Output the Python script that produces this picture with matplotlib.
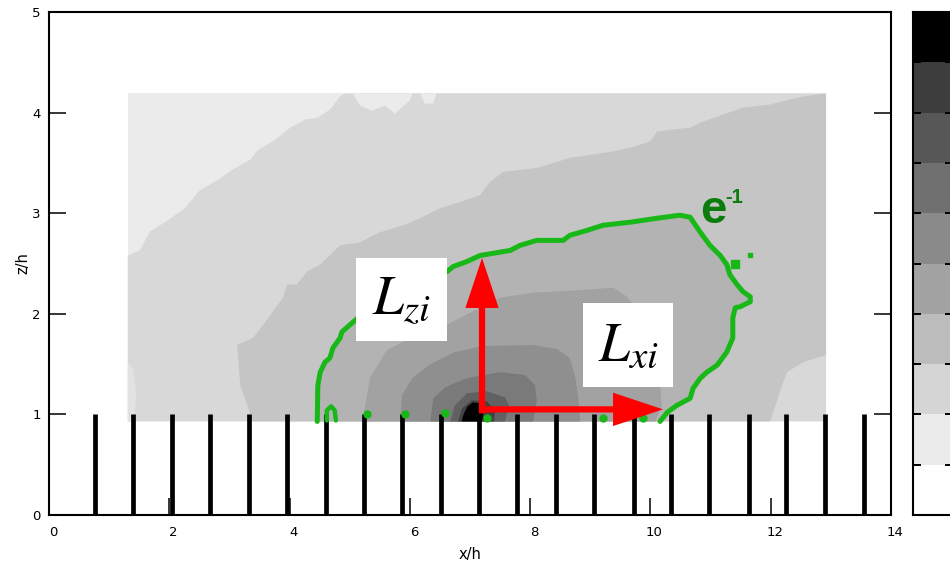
import matplotlib
matplotlib.use("Agg")
import matplotlib.pyplot as plt
from matplotlib.patches import FancyArrowPatch, Rectangle
from matplotlib.transforms import ScaledTranslation

plt.rcParams['font.family'] = ['DejaVu Sans']
plt.rcParams['mathtext.fontset'] = 'stix'

# ---------------- data (units: x/h, z/h) ----------------
x_ticks = [0, 2, 4, 6, 8, 10, 12, 14]
z_ticks = [0, 1, 2, 3, 4, 5]

field_x = [1.31, 12.92]
field_z = [0.93, 4.19]

# level boundaries (closed polygons)
lvl_B_x = [1.31, 1.51, 1.68, 1.93, 2.26, 2.51, 2.81, 3.04, 3.34, 3.48, 3.76, 4.01, 4.26, 4.47, 4.67, 4.84, 4.92, 12.92, 12.92, 1.31]
lvl_B_z = [2.58, 2.63, 2.82, 2.91, 3.05, 3.23, 3.33, 3.43, 3.53, 3.63, 3.73, 3.85, 3.93, 3.95, 4.03, 4.16, 4.19, 4.19, 0.93, 0.93]

patch_A1_x = [5.05, 5.17, 5.37, 5.59, 5.75, 6.00, 6.04]
patch_A1_z = [4.19, 4.07, 4.02, 4.07, 3.99, 4.12, 4.19]
patch_A2_x = [6.17, 6.25, 6.39, 6.44]
patch_A2_z = [4.19, 4.09, 4.09, 4.19]
patch_A3_x = [1.31, 1.31, 1.40, 1.45, 1.42]
patch_A3_z = [0.93, 1.52, 1.45, 1.20, 0.93]

lvl_C_x = [3.39, 3.18, 3.13, 3.39, 3.56, 3.89, 3.96, 4.12, 4.29, 4.51, 4.84, 5.17, 5.50, 5.89, 6.17,
           6.50, 6.83, 7.17, 7.33, 7.55, 8.11, 8.45, 8.66, 9.00, 9.33, 9.66, 9.99, 10.11, 10.33, 10.66,
           10.87, 11.21, 11.54, 11.99, 12.32, 12.54, 12.92, 12.92, 12.54, 12.27, 12.15, 11.99]
lvl_C_z = [0.93, 1.29, 1.69, 1.76, 1.89, 2.16, 2.29, 2.29, 2.42, 2.49, 2.68, 2.71, 2.81, 2.88, 2.95,
           3.05, 3.11, 3.18, 3.31, 3.41, 3.45, 3.51, 3.55, 3.58, 3.61, 3.65, 3.71, 3.81, 3.83, 3.85,
           3.91, 3.98, 4.05, 4.08, 4.13, 4.16, 4.19, 1.59, 1.52, 1.42, 1.22, 0.93]

# e^-1 contour
e1_x = [4.46, 4.47, 4.51, 4.59, 4.67, 4.72, 4.84, 4.87, 5.06, 5.50, 6.17, 6.62, 6.72, 6.95, 7.17,
        7.67, 7.83, 8.11, 8.55, 8.66, 8.95, 9.21, 9.66, 10.11, 10.49, 10.66, 10.83, 10.99, 11.16, 11.27,
        11.32, 11.44, 11.54, 11.66, 11.66, 11.49, 11.41, 11.37, 11.37, 11.27, 11.11, 10.94, 10.83, 10.71,
        10.66, 10.44, 10.28, 10.16]
e1_z = [0.93, 1.29, 1.42, 1.52, 1.56, 1.66, 1.76, 1.82, 1.92, 2.14, 2.34, 2.42, 2.47, 2.52, 2.58,
        2.63, 2.68, 2.73, 2.73, 2.78, 2.83, 2.88, 2.91, 2.95, 2.98, 2.96, 2.81, 2.68, 2.58, 2.49,
        2.39, 2.29, 2.22, 2.17, 2.12, 2.07, 2.06, 1.96, 1.76, 1.62, 1.49, 1.42, 1.36, 1.26,
        1.16, 1.09, 1.02, 0.93]

lvl_E_x = [5.21, 5.34, 5.62, 5.95, 6.39, 6.67, 7.00, 7.50, 8.05, 8.95, 9.38, 9.61, 9.91, 10.08, 10.16, 10.19, 10.08]
lvl_E_z = [0.93, 1.37, 1.64, 1.74, 1.82, 1.91, 2.01, 2.16, 2.21, 2.24, 2.26, 2.17, 1.94, 1.64, 1.29, 1.09, 0.93]
lvl_F_x = [5.84, 5.87, 6.04, 6.34, 6.75, 7.22, 8.05, 8.45, 8.66, 8.75, 8.80, 8.83]
lvl_F_z = [0.93, 1.19, 1.36, 1.50, 1.62, 1.68, 1.69, 1.65, 1.56, 1.37, 1.17, 0.93]
lvl_G_x = [6.34, 6.39, 6.59, 6.95, 7.50, 7.92, 8.08, 8.11, 8.05]
lvl_G_z = [0.93, 1.16, 1.27, 1.36, 1.42, 1.39, 1.29, 1.14, 0.93]
lvl_H_x = [6.67, 6.75, 6.95, 7.28, 7.58, 7.65, 7.58]
lvl_H_z = [0.93, 1.09, 1.21, 1.23, 1.17, 1.09, 0.93]
lvl_I_x = [6.80, 6.87, 7.03, 7.28, 7.42, 7.40]
lvl_I_z = [0.93, 1.06, 1.14, 1.13, 1.04, 0.93]
lvl_K_x = [6.86, 6.90, 6.96, 7.05, 7.15, 7.21, 7.22, 7.20]
lvl_K_z = [0.93, 1.01, 1.08, 1.12, 1.11, 1.06, 1.00, 0.93]

# small e^-1 fragments near the obstacle tops
hook_x = [4.62, 4.62, 4.69, 4.75, 4.77]
hook_z = [0.94, 1.04, 1.08, 1.04, 0.94]
frag_x = [5.29, 5.92, 6.58, 7.28, 9.21, 9.88]
frag_z = [1.00, 1.00, 1.01, 0.96, 0.96, 0.96]
blob_x = [11.41, 11.66]
blob_z = [2.50, 2.58]

# roughness elements (height 1)
bar_x = [0.765, 1.402, 2.040, 2.677, 3.321, 3.962, 4.601, 5.243, 5.875, 6.513, 7.155,
         7.782, 8.430, 9.062, 9.722, 10.342, 10.974, 11.634, 12.250, 12.903, 13.557]
bar_h = 1.0

# arrows
arrow_origin = [7.20, 1.05]
Lz_tip = 2.555
Lx_tip = 10.21

# label boxes: x0, x1, z0, z1
Lzi_box = [5.105, 6.618, 1.73, 2.555]
Lxi_box = [8.88, 10.375, 1.272, 2.107]

# colours
col_A, col_B, col_C = '#ebebeb', '#d8d8d8', '#c5c5c5'
col_D, col_E, col_F = '#b3b3b3', '#a2a2a2', '#8f8f8f'
col_G, col_H, col_I, col_K = '#7a7a7a', '#616161', '#434343', '#000000'
cbar_colors = ['#ffffff', '#ebebeb', '#d5d5d5', '#bcbcbc', '#a3a3a3',
               '#8a8a8a', '#707070', '#575757', '#3d3d3d', '#000000']
green = '#17b817'
dark_green = '#0b7d0b'

# ---------------- figure ----------------
fig = plt.figure(figsize=(9.5, 5.66), dpi=100)
ax = fig.add_axes([49 / 950, 51 / 566, 842 / 950, 503 / 566])
ax.set_xlim(0, 14)
ax.set_ylim(0, 5)

# field
ax.fill([field_x[0], field_x[1], field_x[1], field_x[0]],
        [field_z[0], field_z[0], field_z[1], field_z[1]], color=col_A, lw=0, zorder=1)
ax.fill(lvl_B_x, lvl_B_z, color=col_B, lw=0, zorder=1)
for px, pz in [(patch_A1_x, patch_A1_z), (patch_A2_x, patch_A2_z)]:
    ax.fill(px, pz, color=col_A, lw=0, zorder=1)
ax.fill(patch_A3_x, patch_A3_z, color='#e2e2e2', lw=0, zorder=1)
ax.fill(lvl_C_x, lvl_C_z, color=col_C, lw=0, zorder=1)
ax.fill(e1_x, e1_z, color=col_D, lw=0, zorder=1)
for px, pz, c in [(lvl_E_x, lvl_E_z, col_E), (lvl_F_x, lvl_F_z, col_F),
                  (lvl_G_x, lvl_G_z, col_G), (lvl_H_x, lvl_H_z, col_H),
                  (lvl_I_x, lvl_I_z, col_I), (lvl_K_x, lvl_K_z, col_K)]:
    ax.fill(px, pz, color=c, lw=0, zorder=1)

# e^-1 contour
ax.plot(e1_x, e1_z, color=green, lw=3.6, solid_joinstyle='round', solid_capstyle='round', zorder=4)
ax.plot(hook_x, hook_z, color=green, lw=3.2, solid_capstyle='round', zorder=4)
ax.plot(frag_x, frag_z, 'o', color=green, ms=5, zorder=4)
ax.plot(blob_x[:1], blob_z[:1], 's', color=green, ms=6, zorder=4)
ax.plot(blob_x[1:], blob_z[1:], 's', color=green, ms=3.5, zorder=4)

# roughness bars
ax.vlines(bar_x, 0, bar_h, colors='black', lw=3.4, zorder=3)

# label boxes
for b in (Lzi_box, Lxi_box):
    ax.add_patch(Rectangle((b[0], b[2]), b[1] - b[0], b[3] - b[2], fc='white', ec='none', zorder=5))
ax.text((Lzi_box[0] + Lzi_box[1]) / 2, (Lzi_box[2] + Lzi_box[3]) / 2, r'$L_{zi}$',
        fontsize=40, ha='center', va='center', zorder=6)
ax.text((Lxi_box[0] + Lxi_box[1]) / 2, (Lxi_box[2] + Lxi_box[3]) / 2, r'$L_{xi}$',
        fontsize=40, ha='center', va='center', zorder=6)

# e^-1 label
ax.text(10.825, 2.90, 'e', fontsize=34, fontweight='bold', color=dark_green,
        family=['Liberation Sans', 'DejaVu Sans'], ha='left', va='baseline', zorder=6)
ax.text(11.24, 3.10, '-1', fontsize=14.5, fontweight='bold', color=dark_green,
        family=['Liberation Sans', 'DejaVu Sans'], ha='left', va='baseline', zorder=6)

# red arrows
style = 'simple,head_length=36,head_width=24,tail_width=4.5'
ax.add_patch(FancyArrowPatch((arrow_origin[0], arrow_origin[1] - 0.04), (arrow_origin[0], Lz_tip),
                             arrowstyle=style, mutation_scale=1, color='red', lw=0,
                             shrinkA=0, shrinkB=0, zorder=7))
ax.add_patch(FancyArrowPatch((arrow_origin[0] - 0.05, arrow_origin[1]), (Lx_tip, arrow_origin[1]),
                             arrowstyle=style, mutation_scale=1, color='red', lw=0,
                             shrinkA=0, shrinkB=0, zorder=7))

# axes styling
ax.set_xticks(x_ticks)
ax.set_yticks(z_ticks)
ax.tick_params(direction='in', length=12.2, width=1.1, top=False, right=True, labelsize=9.5)
ax.tick_params(axis='x', pad=8)
ax.tick_params(axis='y', pad=6)
for s in ax.spines.values():
    s.set_linewidth(1.5)
ax.set_xlabel('x/h', fontsize=10.5, labelpad=6)
ax.set_ylabel('z/h', fontsize=10.5, labelpad=1.5)
shift = ScaledTranslation(4 / 100, 0, fig.dpi_scale_trans)
for lbl in ax.get_xticklabels():
    lbl.set_transform(lbl.get_transform() + shift)

# colour bar
cax = fig.add_axes([913 / 950, 51 / 566, 80 / 950, 503 / 566])
n_lv = len(cbar_colors)
for i, c in enumerate(cbar_colors):
    cax.add_patch(Rectangle((0, i), 1, 1, fc=c, ec='none', lw=0, antialiased=False))
cax.set_xlim(0, 1)
cax.set_ylim(0, n_lv)
cax.set_xticks([])
cax.set_yticks([])
for s in cax.spines.values():
    s.set_linewidth(1.5)
bounds = list(range(1, n_lv))
cax.hlines(bounds, 0.0, 0.1, colors='black', lw=1.4)
cax.hlines(bounds, 0.4, 0.51, colors='black', lw=1.4)

fig.savefig('out.png', dpi=100)
